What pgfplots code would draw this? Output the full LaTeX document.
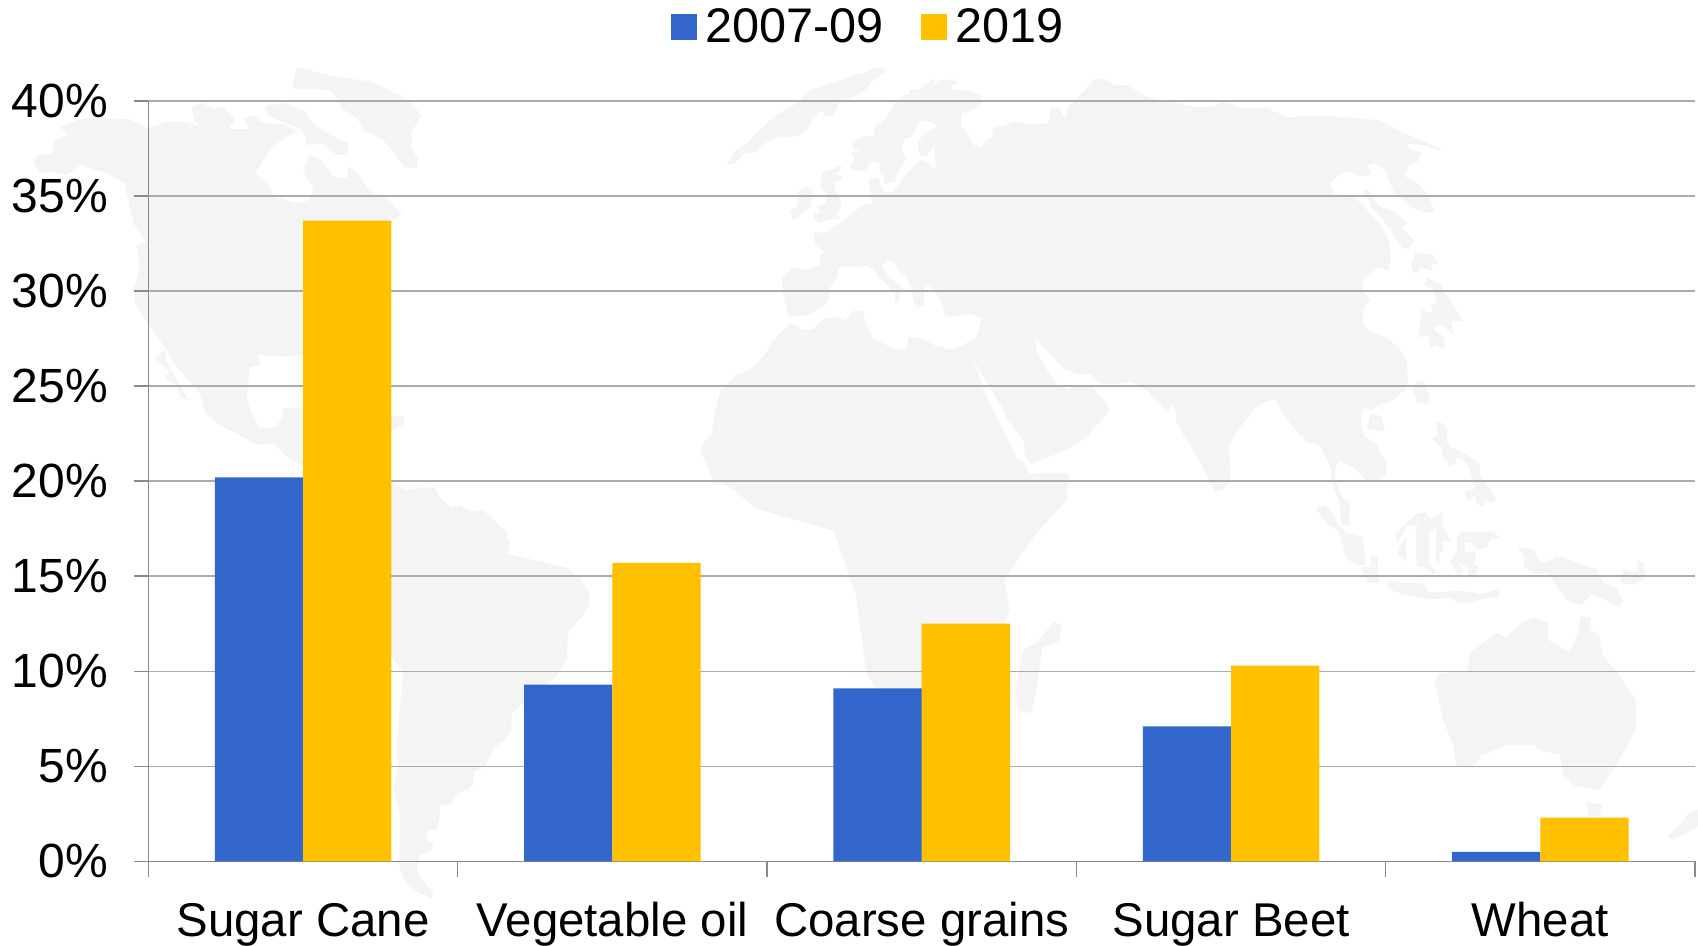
\documentclass[border=0pt]{standalone}
\usepackage{fontspec}
\setmainfont{Liberation Sans}
\usepackage{pgfplots}
\pgfplotsset{compat=1.18}
\definecolor{barblue}{HTML}{3366CC}
\definecolor{bargold}{HTML}{FFC000}
\definecolor{gridc}{HTML}{ABABAB}
\definecolor{axisc}{HTML}{8A8A8A}
\definecolor{mapc}{HTML}{F4F4F4}
\begin{document}
\begin{tikzpicture}
% page = 1698x946 px at 0.5pt per px, axis corner at (148.5,861.3)
\useasboundingbox (-74.25pt,-42.35pt) rectangle (774.75pt,430.65pt);
% faint world map behind the chart, traced piece by piece
% north america, greenland
\begin{scope}[shift={(-64.25pt,400.65pt)},x=.16667pt,y=-.16667pt,mapc]
\fill (40,310)--(50,285)--(95,280)--(105,240)--(145,225)--(120,200)--(190,175)--(330,178)--(380,205)--(440,185)--(490,185)--(540,200)--(560,218)--(600,200)--(635,207)--(690,207)--(670,175)--(700,165)--(730,190)--(790,190)--(830,215)--(800,230)--(750,265)--(740,285)--(705,340)--(745,375)--(760,410)--(835,430)--(870,420)--(880,380)--(850,335)--(870,285)--(900,300)--(940,350)--(980,355)--(985,318)--(1010,335)--(1050,395)--(1090,410)--(1145,460)--(1125,480)--(1110,470)--(1100,485)--(1000,620)--(850,885)--(790,890)--(715,885)--(720,915)--(690,920)--(685,960)--(680,1020)--(695,1060)--(720,1105)--(770,1100)--(790,1065)--(785,1045)--(850,1045)--(850,1215)--(810,1200)--(760,1150)--(715,1155)--(600,1095)--(555,1060)--(540,1000)--(470,920)--(440,868)--(385,795)--(345,730)--(340,690)--(360,620)--(350,555)--(380,545)--(340,490)--(325,420)--(315,370)--(265,340)--(225,330)--(180,315)--(140,345)--(100,335)--(60,340)--cycle;
\fill (405,900)--(437,865)--(437,900)--(505,1020)--(480,1010)--(470,975)--(435,955)--(450,935)--cycle;
\fill (1100,1070)--(1150,1068)--(1155,1090)--(1125,1108)--(1100,1100)--cycle;
\fill (515,140)--(545,130)--(580,145)--(610,140)--(645,178)--(625,205)--(600,200)--(560,218)--(530,190)--(520,170)--cycle;
\fill (735,140)--(790,130)--(850,150)--(880,190)--(930,225)--(985,250)--(980,285)--(950,285)--(910,250)--(860,255)--(855,225)--(840,205)--(760,175)--(740,160)--cycle;
\fill (830,22)--(950,50)--(1050,65)--(1150,110)--(1205,165)--(1175,215)--(1175,265)--(1195,300)--(1190,325)--(1155,322)--(1115,270)--(1085,235)--(1030,210)--(1015,180)--(985,155)--(965,150)--(960,125)--(930,90)--(815,85)--cycle;
\end{scope}
% south america
\begin{scope}[shift={(25.75pt,210.65pt)},x=.16667pt,y=-.16667pt,mapc]
\fill (310,110)--(575,130)--(620,150)--(700,140)--(725,178)--(755,205)--(780,195)--(805,212)--(850,212)--(915,270)--(930,310)--(922,342)--(1100,382)--(1145,420)--(1170,460)--(1165,500)--(1145,530)--(1105,575)--(1100,655)--(1070,710)--(1000,760)--(935,820)--(935,860)--(920,895)--(880,925)--(855,980)--(820,995)--(820,1030)--(805,1050)--(770,1060)--(755,1092)--(718,1097)--(720,1125)--(710,1168)--(682,1172)--(680,1200)--(700,1212)--(695,1230)--(660,1245)--(650,1295)--(700,1360)--(695,1375)--(650,1355)--(615,1325)--(598,1280)--(600,1120)--(580,1050)--(595,980)--(590,920)--(600,800)--(610,695)--(575,650)--(310,400)--cycle;
\end{scope}
% europe, west asia, north africa
\begin{scope}[shift={(275.75pt,400.65pt)},x=.16667pt,y=-.16667pt,mapc]
\fill (80,315)--(110,268)--(145,245)--(180,208)--(230,165)--(290,130)--(330,90)--(390,72)--(460,45)--(495,38)--(530,22)--(565,30)--(520,60)--(495,90)--(465,108)--(420,125)--(400,165)--(370,168)--(370,150)--(335,175)--(325,205)--(300,225)--(270,232)--(240,228)--(185,255)--(170,275)--(130,282)--(105,310)--cycle;
\fill (630,90)--(655,88)--(705,55)--(700,75)--(720,60)--(760,58)--(775,70)--(750,78)--(760,90)--(795,90)--(845,108)--(840,130)--(820,148)--(785,160)--(782,195)--(805,225)--(820,255)--(845,265)--(855,240)--(875,235)--(880,205)--(945,185)--(975,192)--(1045,190)--(1052,142)--(1078,145)--(1095,178)--(1100,148)--(1185,58)--(1215,58)--(1245,75)--(1280,75)--(1335,108)--(1400,125)--(1470,145)--(1500,145)--(1500,1205)--(1430,1090)--(1428,1050)--(1415,1035)--(1405,1055)--(1355,1000)--(1295,965)--(1255,972)--(1198,970)--(1170,940)--(1140,945)--(1095,930)--(1005,835)--(1010,870)--(1040,930)--(1075,975)--(1105,988)--(1130,975)--(1170,975)--(1225,1035)--(1225,1055)--(1160,1130)--(1110,1165)--(995,1212)--(975,1190)--(970,1140)--(915,1070)--(908,1045)--(880,1000)--(835,925)--(790,855)--(830,830)--(845,775)--(808,762)--(760,770)--(735,765)--(725,730)--(715,710)--(695,680)--(672,680)--(672,735)--(655,745)--(640,725)--(635,690)--(620,650)--(595,630)--(580,605)--(560,600)--(545,620)--(565,650)--(600,675)--(612,690)--(600,700)--(595,728)--(585,730)--(585,695)--(565,680)--(540,655)--(520,628)--(498,617)--(470,620)--(415,622)--(412,650)--(385,690)--(388,715)--(372,740)--(340,755)--(325,765)--(265,770)--(250,700)--(245,655)--(275,622)--(320,628)--(360,615)--(362,590)--(372,572)--(345,552)--(342,518)--(380,518)--(410,495)--(430,485)--(448,465)--(490,435)--(518,432)--(505,360)--(535,352)--(540,372)--(555,395)--(580,395)--(605,360)--(650,310)--(660,300)--(680,305)--(708,330)--(702,258)--(680,288)--(658,285)--(652,245)--(675,220)--(712,200)--(695,185)--(660,182)--(635,230)--(615,235)--(605,262)--(618,298)--(595,330)--(585,365)--(555,372)--(550,345)--(538,340)--(540,310)--(518,305)--(490,335)--(455,330)--(450,315)--(465,295)--(450,278)--(480,275)--(460,265)--(458,250)--(485,230)--(525,228)--(520,208)--(560,170)--(595,115)--(630,100)--cycle;
\fill (345,480)--(340,462)--(360,458)--(352,440)--(378,430)--(378,395)--(360,378)--(368,335)--(390,330)--(420,315)--(425,322)--(405,345)--(425,345)--(425,360)--(405,365)--(405,385)--(420,415)--(425,435)--(412,460)--(420,478)--(385,478)--(355,490)--cycle;
\fill (270,455)--(295,435)--(290,400)--(322,380)--(340,395)--(330,440)--(310,460)--(280,480)--cycle;
\fill (272,788)--(310,810)--(340,808)--(372,775)--(408,772)--(435,780)--(462,752)--(490,752)--(497,795)--(518,832)--(575,865)--(620,870)--(625,832)--(662,835)--(708,858)--(750,868)--(792,855)--(830,925)--(850,985)--(880,1055)--(950,1195)--(975,1212)--(990,1250)--(1045,1250)--(1085,1237)--(1107,1240)--(1107,1270)--(45,1270)--(2,1175)--(10,1150)--(35,1120)--(45,1050)--(60,995)--(108,945)--(158,925)--(205,870)--(215,845)--cycle;
\end{scope}
% east asia, japan, indonesia
\begin{scope}[shift={(500.75pt,400.65pt)},x=.1754pt,y=-.1786pt,mapc]
\fill (0,105)--(130,132)--(175,132)--(210,118)--(265,135)--(335,135)--(390,160)--(490,155)--(650,168)--(725,205)--(830,250)--(820,255)--(790,240)--(730,235)--(740,248)--(772,258)--(765,282)--(733,300)--(725,325)--(765,348)--(795,380)--(810,425)--(785,428)--(750,415)--(695,370)--(668,305)--(640,290)--(620,295)--(635,322)--(595,325)--(575,313)--(540,320)--(512,345)--(525,375)--(575,380)--(600,400)--(660,465)--(683,510)--(687,555)--(680,592)--(652,580)--(608,612)--(604,640)--(628,670)--(610,695)--(606,740)--(635,765)--(670,775)--(708,805)--(732,840)--(735,900)--(725,925)--(695,950)--(655,965)--(630,982)--(612,972)--(604,985)--(602,1025)--(610,1052)--(650,1080)--(655,1100)--(675,1125)--(672,1160)--(645,1180)--(620,1180)--(580,1140)--(540,1122)--(527,1145)--(530,1180)--(548,1225)--(572,1240)--(567,1275)--(575,1305)--(545,1300)--(540,1240)--(518,1180)--(515,1140)--(485,1080)--(445,1068)--(415,1035)--(385,1000)--(358,950)--(330,955)--(300,975)--(250,1035)--(222,1088)--(230,1130)--(228,1180)--(205,1205)--(185,1210)--(130,1100)--(75,1015)--(72,975)--(62,965)--(52,985)--(0,935)--cycle;
\fill (610,365)--(625,365)--(632,385)--(655,410)--(685,420)--(705,430)--(735,455)--(715,470)--(755,505)--(735,528)--(720,528)--(690,480)--(650,430)--(630,415)--(628,395)--(612,385)--cycle;
\fill (755,540)--(805,545)--(825,570)--(800,575)--(805,592)--(770,578)--(762,595)--(750,595)--(743,570)--(752,560)--cycle;
\fill (790,608)--(830,632)--(850,665)--(893,733)--(858,730)--(867,770)--(830,740)--(805,750)--(840,780)--(840,810)--(815,800)--(800,808)--(795,775)--(785,770)--(765,778)--(775,700)--(805,708)--(800,685)--(818,680)--(805,640)--(782,630)--cycle;
\fill (760,900)--(785,903)--(798,950)--(790,962)--(762,960)--(750,925)--cycle;
\fill (630,988)--(660,998)--(670,1040)--(625,1035)--(620,1025)--cycle;
\fill (815,1015)--(832,1015)--(848,1040)--(845,1065)--(860,1085)--(885,1095)--(940,1130)--(942,1165)--(985,1225)--(975,1240)--(955,1230)--(950,1252)--(930,1240)--(925,1220)--(905,1235)--(897,1210)--(928,1200)--(905,1130)--(875,1110)--(870,1130)--(855,1138)--(835,1110)--(830,1085)--(803,1060)--(820,1050)--cycle;
\fill (472,1255)--(495,1248)--(515,1260)--(530,1290)--(560,1325)--(605,1335)--(615,1410)--(600,1415)--(565,1400)--(555,1380)--(540,1320)--(505,1300)--cycle;
\fill (630,1385)--(650,1395)--(650,1440)--(655,1460)--(640,1465)--(625,1465)--(600,1420)--(645,1420)--(630,1415)--cycle;
\fill (700,1325)--(760,1270)--(785,1265)--(800,1285)--(835,1265)--(830,1300)--(855,1340)--(855,1350)--(835,1345)--(837,1375)--(825,1380)--(825,1410)--(815,1405)--(817,1310)--(795,1320)--(795,1410)--(815,1430)--(810,1440)--(780,1420)--(760,1415)--(757,1310)--(770,1300)--(732,1305)--(705,1355)--cycle;
\fill (705,1380)--(730,1330)--(730,1405)--cycle;
\fill (875,1335)--(890,1320)--(975,1322)--(997,1335)--(970,1345)--(960,1365)--(935,1370)--(910,1350)--(895,1350)--(900,1380)--(925,1375)--(930,1400)--(920,1410)--(935,1420)--(925,1450)--(908,1445)--(905,1420)--(880,1405)--(875,1400)--(895,1430)--(880,1445)--(855,1405)--(875,1375)--cycle;
\fill (680,1455)--(700,1462)--(775,1465)--(795,1490)--(850,1490)--(860,1485)--(920,1490)--(940,1495)--(998,1480)--(995,1500)--(905,1518)--(880,1520)--(860,1505)--(800,1510)--(700,1490)--(678,1475)--cycle;
\fill (1045,1365)--(1095,1372)--(1110,1405)--(1135,1405)--(1160,1388)--(1270,1425)--(1295,1465)--(1330,1480)--(1350,1515)--(1335,1530)--(1295,1510)--(1260,1495)--(1230,1525)--(1185,1510)--(1135,1435)--(1100,1440)--(1065,1420)--(1065,1385)--cycle;
\fill (1350,1425)--(1375,1435)--(1390,1430)--(1390,1400)--(1410,1410)--(1412,1450)--(1385,1468)--(1340,1465)--cycle;
\end{scope}
% africa south, madagascar, australia, new zealand
\begin{scope}[shift={(350.75pt,194.15pt)},x=.2706pt,y=-.16667pt,mapc]
\fill (-245,15)--(405,0)--(400,80)--(340,190)--(285,320)--(295,410)--(280,470)--(200,790)--(90,790)--(30,595)--(11,368)--(-30,174)--(-170,108)--cycle;
\fill (378,445)--(392,462)--(385,505)--(355,525)--(350,585)--(345,650)--(335,720)--(312,715)--(305,660)--(320,530)--(345,510)--cycle;
\fill (1080,625)--(1090,600)--(1140,595)--(1145,540)--(1170,510)--(1195,480)--(1212,495)--(1240,450)--(1265,435)--(1290,450)--(1290,500)--(1330,538)--(1345,480)--(1350,430)--(1368,432)--(1368,470)--(1385,490)--(1390,545)--(1420,605)--(1452,680)--(1452,760)--(1440,810)--(1405,900)--(1385,950)--(1340,940)--(1318,905)--(1312,845)--(1272,830)--(1265,815)--(1215,815)--(1165,850)--(1150,885)--(1120,880)--(1115,820)--(1095,735)--(1085,660)--cycle;
\fill (1360,985)--(1390,995)--(1385,1030)--(1365,1030)--cycle;
\fill (1512,1090)--(1530,1060)--(1550,1020)--(1568,1010)--(1568,1060)--(1540,1085)--(1518,1100)--cycle;
\end{scope}
\begin{axis}[
    scale only axis,
    width=773.25pt,
    height=380.15pt,
    ybar,
    bar width=44.15pt,
    xmin=-0.5, xmax=4.5,
    ymin=0, ymax=40,
    ytick={0,5,...,40},
    yticklabel={\pgfmathprintnumber{\tick}\%},
    xtick={0,1,2,3,4},
    xticklabels={Sugar Cane,Vegetable oil,Coarse grains,Sugar Beet,Wheat},
    minor xtick={-0.5,0.5,1.5,2.5,3.5,4.5},
    axis x line*=bottom,
    axis y line*=left,
    axis line style={draw=axisc,line width=.7pt,-},
    ymajorgrids,
    grid style={draw=gridc,line width=.7pt},
    tick align=outside,
    major tick length=7.25pt,
    minor tick length=8pt,
    major x tick style={draw=none},
    minor x tick style={draw=axisc,line width=.7pt},
    ytick style={draw=axisc,line width=.7pt},
    /pgf/number format/assume math mode=true,
    yticklabel style={font=\fontsize{24}{28}\selectfont,black,xshift=-9.5pt},
    xticklabel style={font=\fontsize{23.7}{28}\selectfont,black,anchor=base,yshift=-30.5pt},
    legend columns=2,
    legend style={at={(0.4662,1.097)},anchor=center,draw=none,fill=none,
      font=\fontsize{24.3}{28}\selectfont,inner sep=0pt,
      /tikz/every even column/.append style={column sep=16.84pt}},
    legend image code/.code={\fill[#1] (0pt,-6.5pt) rectangle (13pt,6.5pt);\path (13pt,0pt)--(15.17pt,0pt);},
]
\addplot[fill=barblue,draw=none,bar shift=-22.07pt] coordinates {(0,20.2) (1,9.3) (2,9.1) (3,7.1) (4,0.5)};
\addlegendentry{2007-09}
\addplot[fill=bargold,draw=none,bar shift=22.07pt] coordinates {(0,33.7) (1,15.7) (2,12.5) (3,10.3) (4,2.3)};
\addlegendentry{2019}
\end{axis}
\end{tikzpicture}
\end{document}
